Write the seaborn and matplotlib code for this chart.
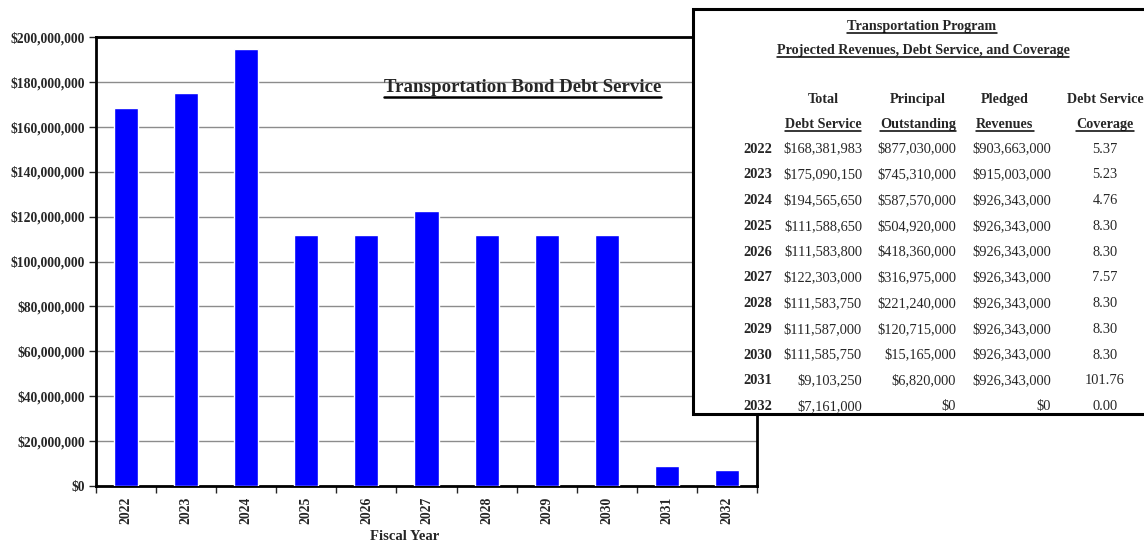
import matplotlib
matplotlib.use("Agg")
import matplotlib.pyplot as plt
import matplotlib.ticker as mticker
from matplotlib.patches import Rectangle
from matplotlib.lines import Line2D
import numpy as np
import pandas as pd
import seaborn as sns

# ---- data ----
years = ["2022", "2023", "2024", "2025", "2026", "2027", "2028", "2029", "2030", "2031", "2032"]
total_debt_service = [168381983, 175090150, 194565650, 111588650, 111583800, 122303000,
                      111583750, 111587000, 111585750, 9103250, 7161000]
principal_outstanding = [877030000, 745310000, 587570000, 504920000, 418360000, 316975000,
                         221240000, 120715000, 15165000, 6820000, 0]
pledged_revenues = [903663000, 915003000, 926343000, 926343000, 926343000, 926343000,
                    926343000, 926343000, 926343000, 926343000, 0]
coverage = [5.37, 5.23, 4.76, 8.30, 8.30, 7.57, 8.30, 8.30, 8.30, 101.76, 0.00]

chart_title = "Transportation Bond Debt Service"
table_title_1 = "Transportation Program"
table_title_2 = "Projected Revenues, Debt Service, and Coverage"
x_label = "Fiscal Year"

sns.set_style("white")
plt.rcParams["font.family"] = ["Liberation Serif", "DejaVu Serif"]

W, H = 1144, 545
fig = plt.figure(figsize=(W / 100, H / 100), dpi=100)
fig.patch.set_facecolor("white")

def fx(px):
    return px / W

def fy(py):
    return 1 - py / H

ax = fig.add_axes([fx(96), fy(486), fx(757 - 96), (486 - 37) / H])

df = pd.DataFrame({"year": years, "debt": total_debt_service})
sns.barplot(data=df, x="year", y="debt", color="#0000FF", saturation=1,
            width=0.4, ax=ax, zorder=3)

ax.set_ylim(0, 200_000_000)
ax.set_xlim(-0.5, len(years) - 0.5)
ax.yaxis.set_major_locator(mticker.MultipleLocator(20_000_000))
ax.yaxis.set_major_formatter(mticker.FuncFormatter(lambda v, p: f"${v:,.0f}"))
ax.grid(axis="y", color="#8c8c8c", linewidth=1, zorder=0)
ax.set_axisbelow(True)

for s in ax.spines.values():
    s.set_visible(True)
    s.set_color("black")
    s.set_linewidth(2)

ax.tick_params(axis="y", which="major", left=True, length=5, width=1, direction="out",
               labelsize=9.8, pad=3)
for lbl in ax.get_yticklabels():
    lbl.set_fontweight("bold")

ax.set_xticks(range(len(years)))
ax.set_xticklabels(years, rotation=90, fontsize=9.8, fontweight="bold")
ax.tick_params(axis="x", which="major", length=0, pad=8)
ax.set_xticks(np.arange(-0.5, len(years), 1), minor=True)
ax.tick_params(axis="x", which="minor", bottom=True, length=5, width=1, direction="out")
ax.set_xlabel("")
ax.set_ylabel("")

fig.text(fx(405), fy(536), x_label, ha="center", va="center",
         fontsize=10.5, fontweight="bold")

# title inside the plotting area
t_title = ax.text(fx(384), fy(88), chart_title, transform=fig.transFigure,
                  fontsize=13.6, fontweight="bold", ha="left", va="center", zorder=5)

# ---- summary table box ----
box_l, box_t, box_r, box_b = 693, 9, 1146, 414
fig.patches.append(Rectangle((fx(box_l), fy(box_b)), fx(box_r - box_l), (box_b - box_t) / H,
                             transform=fig.transFigure, facecolor="white",
                             edgecolor="black", linewidth=2.2, zorder=4))

underlined = []

def ftext(x, y, s, ha="center", weight="normal", size=10.4, underline=False):
    # y is the visual middle of the capitals; place the baseline below it
    base = y + 0.32 * size * 100 / 72
    t = fig.text(fx(x), fy(base), s, ha=ha, va="baseline", fontsize=size,
                 fontweight=weight, zorder=6)
    if underline:
        underlined.append(t)
    return t

ftext(922, 25, table_title_1, weight="bold", size=10.2, underline=True)
ftext(923, 49, table_title_2, weight="bold", size=10.2, underline=True)

col_centers = [823, 918, 1005, 1105]
head_top = ["Total", "Principal", "Pledged", "Debt Service"]
head_bot = ["Debt Service", "Outstanding", "Revenues", "Coverage"]
for cx, a, b in zip(col_centers, head_top, head_bot):
    ftext(cx, 98, a, weight="bold", size=10.2)
    ftext(cx, 123, b, weight="bold", size=10.2, underline=True)

row_y0, row_dy = 148, 25.75
for i, yr in enumerate(years):
    y = row_y0 + i * row_dy
    ftext(772, y, yr, ha="right", weight="bold")
    ftext(862, y, f"${total_debt_service[i]:,.0f}", ha="right")
    ftext(956, y, f"${principal_outstanding[i]:,.0f}", ha="right")
    ftext(1051, y, f"${pledged_revenues[i]:,.0f}", ha="right")
    ftext(1105, y, f"{coverage[i]:.2f}", ha="center")

underlined.append(t_title)

# draw underlines beneath selected texts
fig.canvas.draw()
renderer = fig.canvas.get_renderer()
for t in underlined:
    bb = t.get_window_extent(renderer).transformed(fig.transFigure.inverted())
    lw = 1.8 if t is t_title else 1.1
    fig.lines.append(Line2D([bb.x0, bb.x1], [bb.y0, bb.y0],
                            transform=fig.transFigure, color="black",
                            linewidth=lw, zorder=7))

fig.savefig("out.png", dpi=100, facecolor="white")
